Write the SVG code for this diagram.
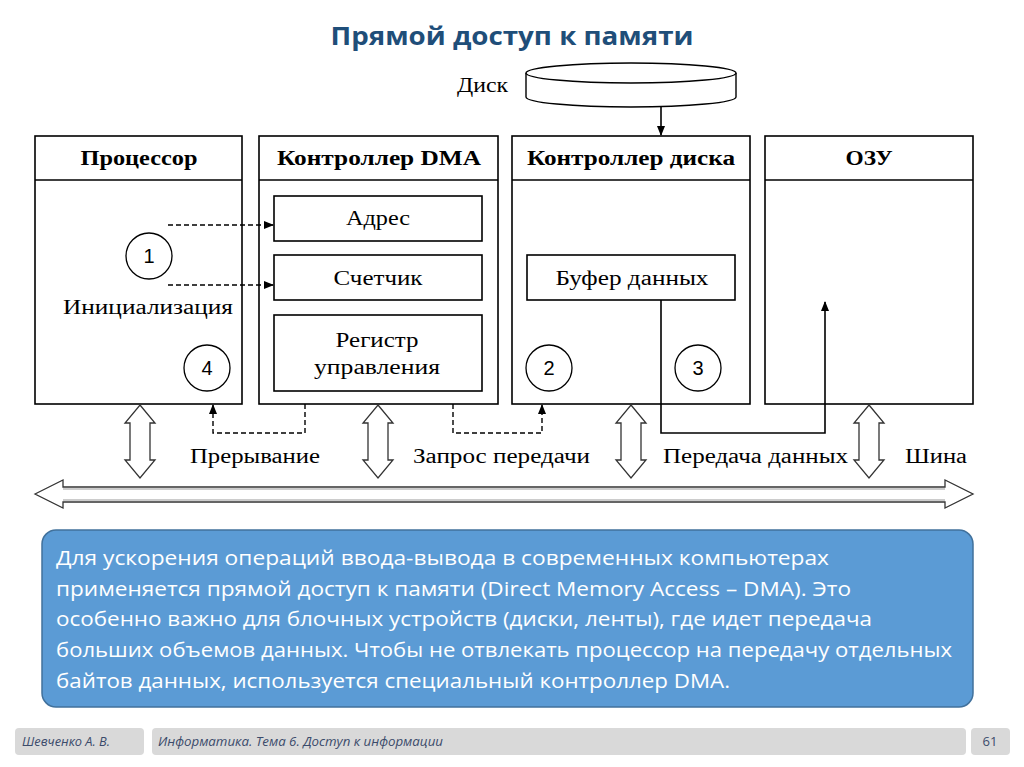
<svg xmlns="http://www.w3.org/2000/svg" width="1024" height="767" viewBox="0 0 1024 767">
<style>
.box{fill:#fff;stroke:#000;stroke-width:1.6}
.inner{fill:#fff;stroke:#000;stroke-width:1.6}
.hdr{font-family:"Liberation Serif",serif;font-weight:bold;font-size:20px;fill:#000;text-anchor:middle}
.lbl{font-family:"Liberation Serif",serif;font-size:20px;fill:#000;text-anchor:middle}
.lbls{font-family:"Liberation Serif",serif;font-size:20px;fill:#000}
.num{font-family:"Liberation Sans",sans-serif;font-size:20px;fill:#000;text-anchor:middle}
.circ{fill:#fff;stroke:#000;stroke-width:1.3}
.dash{fill:none;stroke:#000;stroke-width:1.4;stroke-dasharray:5,3}
.solid{fill:none;stroke:#000;stroke-width:1.6}
.blk{fill:#fff;stroke:#333;stroke-width:1.3}
.note{font-family:"Open Sans",sans-serif;font-size:19.5px;fill:#fff}
.foot{font-family:"Open Sans",sans-serif;font-style:italic;font-size:13px;fill:#3b4b6b}
.frect{fill:#d9d9d9}
</style>
<defs>
<marker id="ah" markerWidth="10" markerHeight="10" refX="9" refY="5" orient="auto" markerUnits="userSpaceOnUse">
<path d="M0,1 L10,5 L0,9 Z" fill="#000"/>
</marker>
</defs>
<rect width="1024" height="767" fill="#fff"/>
<text x="512" y="45" text-anchor="middle" font-family="Open Sans, sans-serif" font-weight="bold" font-size="25" fill="#1f4e79" textLength="363" lengthAdjust="spacingAndGlyphs">Прямой доступ к памяти</text>

<g id="disk">
<path d="M526,73 L526,97 A105,10 0 0 0 736,97 L736,73" fill="#fff" stroke="#000" stroke-width="1.4"/>
<ellipse cx="631" cy="73" rx="105" ry="10" fill="#fff" stroke="#000" stroke-width="1.4"/>
<text x="457" y="92" class="lbls" textLength="51" lengthAdjust="spacingAndGlyphs">Диск</text>
</g>

<g id="cpu">
<rect x="35" y="136" width="207" height="268" class="box"/>
<line x1="35" y1="180" x2="242" y2="180" stroke="#000" stroke-width="1.6"/>
<text x="139" y="165" class="hdr" textLength="117" lengthAdjust="spacingAndGlyphs">Процессор</text>
<circle cx="149" cy="256" r="23" class="circ"/>
<text x="149" y="263" class="num">1</text>
<text x="148" y="314" class="lbl" textLength="170" lengthAdjust="spacingAndGlyphs">Инициализация</text>
<circle cx="207" cy="368" r="23" class="circ"/>
<text x="207" y="375" class="num">4</text>
</g>

<g id="dma">
<rect x="259" y="136" width="239" height="268" class="box"/>
<line x1="259" y1="180" x2="498" y2="180" stroke="#000" stroke-width="1.6"/>
<text x="379" y="165" class="hdr" textLength="204" lengthAdjust="spacingAndGlyphs">Контроллер DMA</text>
<rect x="274" y="196" width="208" height="45" class="inner"/>
<text x="378" y="225" class="lbl" textLength="64" lengthAdjust="spacingAndGlyphs">Адрес</text>
<rect x="274" y="255" width="208" height="45" class="inner"/>
<text x="378" y="285" class="lbl" textLength="89" lengthAdjust="spacingAndGlyphs">Счетчик</text>
<rect x="274" y="315" width="208" height="76" class="inner"/>
<text x="377" y="347" class="lbl" textLength="83" lengthAdjust="spacingAndGlyphs">Регистр</text>
<text x="377" y="374" class="lbl" textLength="126" lengthAdjust="spacingAndGlyphs">управления</text>
</g>

<g id="diskctrl">
<rect x="512" y="136" width="238" height="268" class="box"/>
<line x1="512" y1="180" x2="750" y2="180" stroke="#000" stroke-width="1.6"/>
<text x="631" y="165" class="hdr" textLength="208" lengthAdjust="spacingAndGlyphs">Контроллер диска</text>
<rect x="527" y="255" width="208" height="45" class="inner"/>
<text x="632" y="285" class="lbl" textLength="153" lengthAdjust="spacingAndGlyphs">Буфер  данных</text>
<circle cx="549" cy="368" r="23" class="circ"/>
<text x="549" y="375" class="num">2</text>
<circle cx="698" cy="368" r="23" class="circ"/>
<text x="698" y="375" class="num">3</text>
</g>

<g id="ram">
<rect x="765" y="136" width="208" height="268" class="box"/>
<line x1="765" y1="180" x2="973" y2="180" stroke="#000" stroke-width="1.6"/>
<text x="869" y="165" class="hdr" textLength="47" lengthAdjust="spacingAndGlyphs">ОЗУ</text>
</g>

<g id="connectors">
<line x1="661" y1="107" x2="661" y2="135" class="solid" marker-end="url(#ah)"/>
<line x1="168" y1="225" x2="273" y2="225" class="dash" marker-end="url(#ah)"/>
<line x1="168" y1="285" x2="273" y2="285" class="dash" marker-end="url(#ah)"/>
<polyline points="305,404 305,433 213,433 213,405" class="dash" marker-end="url(#ah)"/>
<polyline points="453,404 453,433 542,433 542,405" class="dash" marker-end="url(#ah)"/>
<polyline points="661,300 661,433 825,433 825,302" class="solid" marker-end="url(#ah)"/>
<path d="M140,405 L155,423 L150,423 L150,460 L155,460 L140,478 L125,460 L130,460 L130,423 L125,423 Z" class="blk"/>
<path d="M378,405 L393,423 L388,423 L388,460 L393,460 L378,478 L363,460 L368,460 L368,423 L363,423 Z" class="blk"/>
<path d="M631,405 L646,423 L641,423 L641,460 L646,460 L631,478 L616,460 L621,460 L621,423 L616,423 Z" class="blk"/>
<path d="M869,405 L884,423 L879,423 L879,460 L884,460 L869,478 L854,460 L859,460 L859,423 L854,423 Z" class="blk"/>
<path d="M35,494 L63,480 L63,487 L945,487 L945,480 L973,494 L945,508 L945,502 L63,502 L63,508 Z" class="blk"/>
<line x1="63" y1="489" x2="945" y2="489" stroke="#bbb" stroke-width="1.5"/>
<line x1="63" y1="500" x2="945" y2="500" stroke="#bbb" stroke-width="1.5"/>
<text x="190" y="463" class="lbls" textLength="130" lengthAdjust="spacingAndGlyphs">Прерывание</text>
<text x="413" y="463" class="lbls" textLength="177" lengthAdjust="spacingAndGlyphs">Запрос передачи</text>
<text x="663" y="463" class="lbls" textLength="185" lengthAdjust="spacingAndGlyphs">Передача данных</text>
<text x="905" y="463" class="lbls" textLength="62" lengthAdjust="spacingAndGlyphs">Шина</text>
</g>

<g id="note">
<rect x="42" y="530" width="931" height="177" rx="14" fill="#5b9bd5" stroke="#41719c" stroke-width="1.5"/>
<text x="56" y="565" class="note" textLength="773" lengthAdjust="spacingAndGlyphs">Для ускорения операций ввода-вывода в современных компьютерах</text>
<text x="56" y="596" class="note" textLength="795" lengthAdjust="spacingAndGlyphs">применяется прямой доступ к памяти (Direct Memory Access – DMA). Это</text>
<text x="56" y="626" class="note" textLength="816" lengthAdjust="spacingAndGlyphs">особенно важно для блочных устройств (диски, ленты), где идет передача</text>
<text x="56" y="657" class="note" textLength="896" lengthAdjust="spacingAndGlyphs">больших объемов данных. Чтобы не отвлекать процессор на передачу отдельных</text>
<text x="56" y="688" class="note" textLength="674" lengthAdjust="spacingAndGlyphs">байтов данных, используется специальный контроллер DMA.</text>
</g>

<g id="footer">
<rect x="15" y="728" width="129" height="27" rx="4" class="frect"/>
<rect x="152" y="728" width="814" height="27" rx="4" class="frect"/>
<rect x="971" y="728" width="39" height="27" rx="4" class="frect"/>
<text x="22" y="746" class="foot" textLength="88" lengthAdjust="spacingAndGlyphs">Шевченко А. В.</text>
<text x="158" y="746" class="foot" textLength="285" lengthAdjust="spacingAndGlyphs">Информатика. Тема 6. Доступ к информации</text>
<text x="990" y="746" text-anchor="middle" class="foot" style="font-style:normal">61</text>
</g>
</svg>
